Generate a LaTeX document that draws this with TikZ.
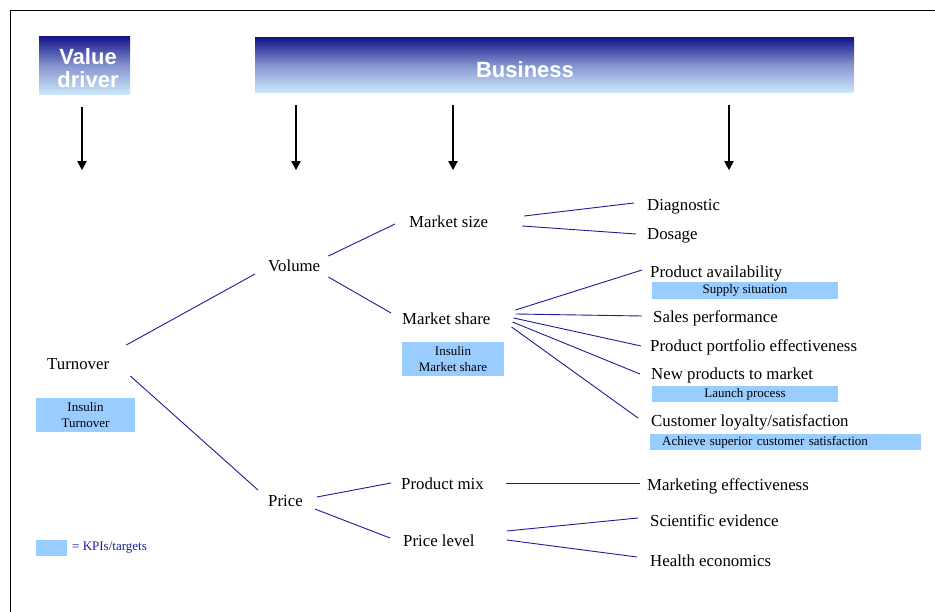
\documentclass[tikz,border=0pt]{standalone}
\usepackage{fontspec}
\setmainfont{Liberation Serif}
\newfontfamily\headfont{Liberation Sans}
\usetikzlibrary{arrows.meta}

\definecolor{headtop}{RGB}{22,22,140}
\definecolor{headmid}{RGB}{135,150,208}
\definecolor{headbot}{RGB}{205,234,252}
\definecolor{kpiblue}{RGB}{153,204,255}
\definecolor{linkblue}{RGB}{28,28,150}

\tikzset{
  head/.style={inner sep=0, top color=headtop, bottom color=headbot, middle color=headmid},
  headtext/.style={text=white, inner sep=0, align=center,
      font=\headfont\bfseries\fontsize{22}{23}\selectfont},
  item/.style={anchor=west, inner sep=0, text height=13pt, text depth=0.5pt,
      font=\fontsize{16.8}{19}\selectfont},
  kpi/.style={fill=kpiblue, inner sep=0, align=center,
      font=\fontsize{13}{15.5}\selectfont},
  link/.style={draw=linkblue, line width=0.9pt},
  down/.style={line width=1.8pt, -{Triangle[width=9pt,length=9pt]}}
}

\begin{document}
\begin{tikzpicture}[x=1pt,y=-1pt]
  \useasboundingbox (0,0) rectangle (935,612);
  \draw[line width=1pt] (10,612) -- (10,11) -- (935,11);

  % header bars
  \node[head, minimum width=91pt, minimum height=58pt] (vd) at (84.5,66) {};
  \node[headtext] (vdtext) at (88,68) {Value\\driver};
  \node[head, minimum width=599pt, minimum height=55pt] (bz) at (554.5,65.5) {};
  \node[headtext] (bztext) at (525,70) {Business};

  \draw[down] ([xshift=-2.5pt,yshift=-12pt]vd.south) -- ++(0,63);
  \foreach \x in {296,453,729}
    \draw[down] ([yshift=-12pt]\x,0 |- bz.south) -- ++(0,65);

  % value driver tree
  \node[item] (to)  at (47,363)  {Turnover};
  \node[item] (vo)  at (268,265) {Volume};
  \node[item] (pr)  at (268,500) {Price};
  \node[item] (msz) at (409,221) {Market size};
  \node[item] (msh) at (402,318) {Market share};
  \node[item] (pm)  at (401,483) {Product mix};
  \node[item] (pl)  at (403,540) {Price level};
  \node[item] (dg)  at (647,204) {Diagnostic};
  \node[item] (ds)  at (647,233) {Dosage};
  \node[item] (pa)  at (650,271) {Product availability};
  \node[item] (sp)  at (653,316) {Sales performance};
  \node[item] (pp)  at (650,345) {Product portfolio effectiveness};
  \node[item] (np)  at (651,373) {New products to market};
  \node[item] (cl)  at (651,420) {Customer loyalty/satisfaction};
  \node[item] (me)  at (647,484) {Marketing effectiveness};
  \node[item] (se)  at (650,520) {Scientific evidence};
  \node[item] (he)  at (650,560) {Health economics};

  % KPI boxes
  \node[kpi, minimum width=99pt, minimum height=34pt] (kt) at (85.5,415) {Insulin\\Turnover};
  \node[kpi, minimum width=102pt, minimum height=34pt] (km) at (453,359) {Insulin\\Market share};
  \node[kpi, minimum width=186pt, minimum height=17pt] (ks) at (745,290.5) {Supply situation};
  \node[kpi, minimum width=186pt, minimum height=16pt] (kl) at (745,394) {Launch process};
  \node[kpi, anchor=west, inner xsep=12pt, text width=247pt, align=left,
        minimum height=16pt] (ka) at (650,442) {Achieve superior customer satisfaction};

  % links
  \foreach \a/\ax/\ay/\b/\bx/\by in {
      to/17/-18/vo/-13/9, to/21/13/pr/-10/-10,
      vo/8/-9/msz/-14/3, vo/8/12/msh/-11/-5,
      msz/36/-5/dg/-13/-1, msz/34/5/ds/-11/1,
      msh/25/-8/pa/-8/-1, msh/25/-4/sp/-11/0, msh/23/0/pp/-9/1,
      msh/22/4/np/-11/1, msh/21/9/cl/-13/-2,
      pr/14/-3/pm/-10/0, pr/12/9/pl/-13/-2,
      pm/22/0/me/-7/-1, pl/32/-9/se/-12/-2, pl/32/0/he/-13/-3}
    \draw[link] ([shift={(\ax,\ay)}]\a.east) -- ([shift={(\bx,\by)}]\b.west);

  % legend
  \node[kpi, minimum width=31pt, minimum height=16pt] (key) at (51.5,548) {};
  \node[anchor=west, inner sep=0, text=linkblue,
        font=\fontsize{13}{15.5}\selectfont] (keytext) at (72,548) {= KPIs/targets};
\end{tikzpicture}
\end{document}
